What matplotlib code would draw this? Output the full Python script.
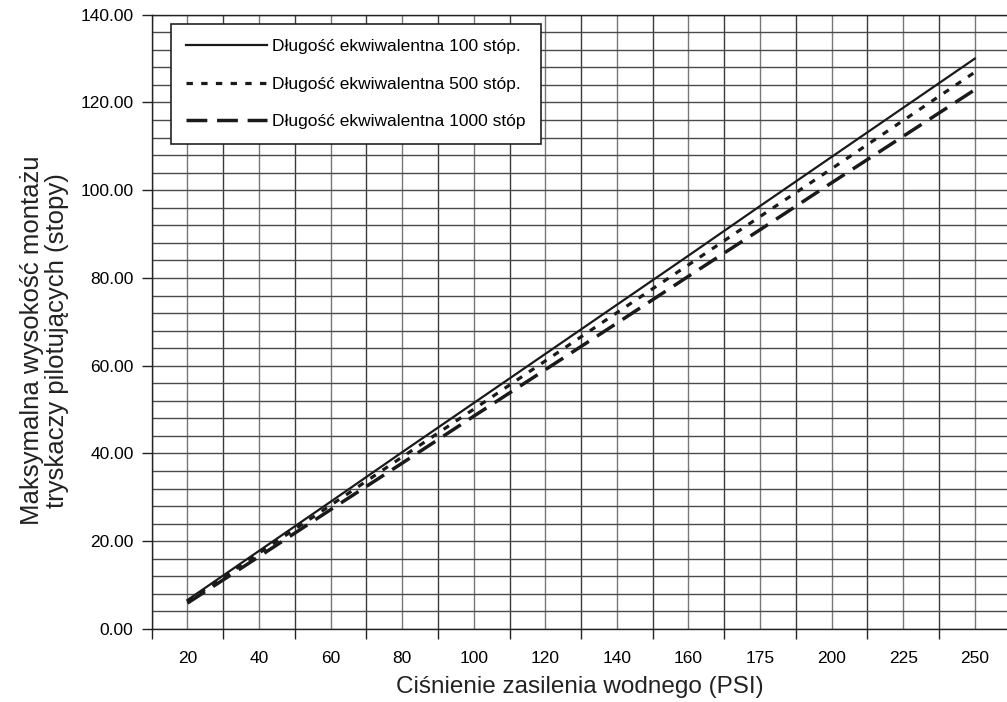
import matplotlib.pyplot as plt
import numpy as np
from matplotlib.ticker import FixedLocator, FormatStrFormatter, NullFormatter

plt.rcParams['font.family'] = ['Liberation Sans', 'DejaVu Sans']

pressures = ["20", "40", "60", "80", "100", "120", "140", "160", "175", "200", "225", "250"]
h100 = [6.6, 17.8, 29.0, 40.3, 51.5, 62.7, 73.9, 85.1, 96.4, 107.6, 118.8, 130.0]
h500 = [6.3, 17.3, 28.2, 39.2, 50.1, 61.1, 72.1, 83.0, 94.0, 104.9, 115.9, 126.9]
h1000 = [5.9, 16.5, 27.2, 37.8, 48.5, 59.1, 69.7, 80.4, 91.0, 101.7, 112.3, 122.9]
labels = ["Długość ekwiwalentna 100 stóp.", "Długość ekwiwalentna 500 stóp.",
          "Długość ekwiwalentna 1000 stóp"]

fig = plt.figure(figsize=(10.07, 7.02), dpi=100)
ax = fig.add_axes([0.1506, 0.104, 0.8494, 0.875])

x = np.arange(len(pressures))

# grid: vertical every half category, horizontal every 4 units
for v in np.arange(-0.5, len(pressures) + 0.5, 0.5):
    ax.axvline(v, color='#3a3a3a' if v % 1 else '#777777', lw=1.0, zorder=0)
for hy in np.arange(0, 141, 4):
    ax.axhline(hy, color='#4a4a4a', lw=1.0, zorder=0)

ax.plot(x, h100, color='#1a1a1a', lw=1.6, linestyle='-', label=labels[0])
ax.plot(x, h500, color='#1a1a1a', lw=2.3, linestyle=(0, (2, 2.6)), label=labels[1])
ax.plot(x, h1000, color='#1a1a1a', lw=2.5, linestyle=(0, (6, 2.8)), label=labels[2])

ax.set_xlim(-0.5, 11.45)
ax.set_ylim(0, 140)

ax.set_xticks(x)
ax.set_xticklabels(pressures, fontsize=12.5)
ax.tick_params(axis='x', which='major', length=0, pad=16)
ax.xaxis.set_minor_locator(FixedLocator(np.arange(-0.5, 12, 1)))
ax.xaxis.set_minor_formatter(NullFormatter())
ax.tick_params(axis='x', which='minor', length=7, width=1, direction='out', color='#222222')

ax.set_yticks(np.arange(0, 141, 20))
ax.yaxis.set_major_formatter(FormatStrFormatter('%.2f'))
ax.tick_params(axis='y', which='major', length=7, width=1, direction='out', labelsize=12.5,
               pad=6, color='#222222')

ax.spines['right'].set_visible(False)
for s in ['left', 'bottom', 'top']:
    ax.spines[s].set_color('#222222')
    ax.spines[s].set_linewidth(1.0)

ax.set_xlabel('Ciśnienie zasilenia wodnego (PSI)', fontsize=17.5, color='#222222', labelpad=7)
ax.set_ylabel('Maksymalna wysokość montażu\ntryskaczy pilotujących (stopy)', fontsize=18.5,
              color='#222222', labelpad=8, linespacing=1.05)
ax.yaxis.label.set_y(0.47)

leg = ax.legend(loc='upper left', bbox_to_anchor=(0.0225, 0.985), fontsize=12.5,
                handlelength=4.7, handletextpad=0.3, labelspacing=1.3, borderpad=0.85,
                fancybox=False, framealpha=1, edgecolor='#222222', borderaxespad=0)
leg.get_frame().set_linewidth(1.2)

fig.savefig('out.png', dpi=100)
